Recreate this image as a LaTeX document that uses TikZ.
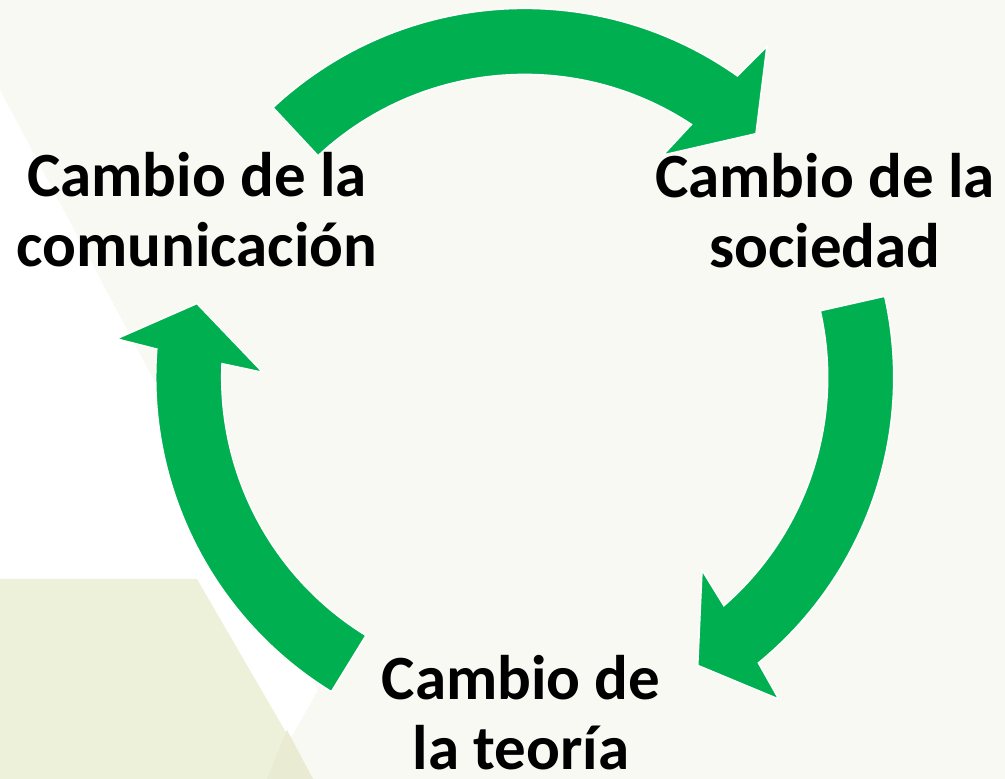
\documentclass[tikz,border=0pt]{standalone}
\usepackage{fontspec}
\setmainfont{Carlito}
\usepackage{tikz}

\definecolor{verde}{RGB}{0,176,80}
\definecolor{fondo}{RGB}{249,249,243}
\definecolor{oliva}{RGB}{238,241,218}
\definecolor{oliva2}{RGB}{233,236,210}

\begin{document}
\begin{tikzpicture}[x=1pt,
            y=1pt,
            flecha/.style={fill=verde, draw=white, line width=1.5pt},
            etiqueta/.style={align=center, inner sep=0pt, anchor=base,
                font=\fontsize{63}{70}\selectfont\bfseries}]

        % fondo
        \fill[fondo] (0,0) rectangle (1005,779);
        \useasboundingbox (0,0) rectangle (1005,779);
        \fill[white]  (0,689) -- (318,89) -- (267,0) -- (0,0) -- cycle;
        \fill[oliva]  (0,200) -- (197,200) -- (313,0) -- (0,0) -- cycle;
        \fill[oliva2] (287,49) -- (313,0) -- (267,0) -- cycle;

        \coordinate (c) at (524.7,401.6);

        % flechas del ciclo
        \begin{scope}[shift={(c)}]
            \path[flecha] (133:369) arc[start angle=133, end angle=54.8, radius=369]
                -- (53.8:410) -- (46.5:336) -- (58.1:262) -- (56.6:303)
                arc[start angle=56.6, end angle=133, radius=303] -- cycle;
            \path[flecha] (12.7:369) arc[start angle=12.7, end angle=-50.7, radius=369]
                -- (-51.7:410) -- (-59:336) -- (-47.4:262) -- (-48.9:303)
                arc[start angle=-48.9, end angle=12.7, radius=303] -- cycle;
            \path[flecha] (238.4:369) arc[start angle=238.4, end angle=175.6, radius=369]
                -- (174.6:410) -- (167.3:336) -- (178.9:262) -- (177.4:303)
                arc[start angle=177.4, end angle=238.4, radius=303] -- cycle;
        \end{scope}

        \node[etiqueta] (com) at (197,512) {Cambio de la\\comunicación};
        \node[etiqueta] (soc) at (825,511) {Cambio de la\\sociedad};
        \node[etiqueta] (teo) at (521,9)   {Cambio de\\la teoría};

    \end{tikzpicture}
\end{document}
